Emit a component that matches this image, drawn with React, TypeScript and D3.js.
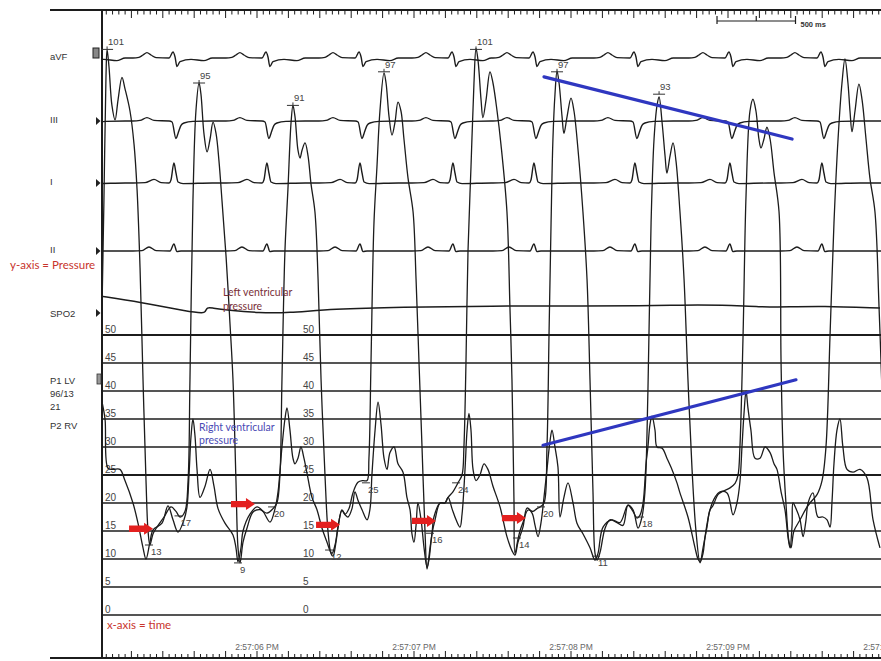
import React from "react";
import * as d3 from "d3";

type P = [number, number];

// ---------- DATA (time in s from 2:57:05 PM, pressure in mmHg) ----------
const lvPressure: P[] = [[0.013,55],[0.025,74],[0.038,96],[0.045,101],[0.057,98],[0.076,91],[0.096,88.4],[0.115,92],[0.140,96],[0.159,94],[0.191,90],[0.217,84],[0.236,76],[0.255,62],[0.274,42],[0.293,24],[0.306,15],[0.318,12.5],[0.338,14.5],[0.363,15.7],[0.408,17.5],[0.452,19.3],[0.484,18.5],[0.510,17.5],[0.541,18.5],[0.561,24],[0.573,42],[0.592,74],[0.611,90],[0.631,95],[0.643,93],[0.662,86],[0.682,82.7],[0.701,85],[0.720,88],[0.739,86],[0.758,81],[0.777,74],[0.803,64],[0.828,52],[0.847,42],[0.866,24],[0.879,12],[0.892,9.3],[0.911,13],[0.936,15.5],[0.975,18.4],[1.019,18.8],[1.064,18.2],[1.102,19],[1.127,20],[1.146,25],[1.159,42],[1.178,65],[1.197,76],[1.217,88],[1.229,91],[1.242,89],[1.261,83],[1.274,81.6],[1.287,83],[1.306,84.3],[1.325,82],[1.344,77],[1.369,72],[1.389,60],[1.408,42],[1.433,25],[1.452,15],[1.471,11],[1.484,10.5],[1.503,13],[1.516,15.7],[1.541,18.7],[1.561,18],[1.586,19],[1.611,21.8],[1.643,23.7],[1.675,24],[1.701,24],[1.713,28],[1.726,45],[1.745,70],[1.764,80],[1.783,90],[1.809,96.8],[1.822,95],[1.841,89],[1.860,85.7],[1.879,88],[1.898,91.6],[1.917,90],[1.936,85],[1.962,78],[1.994,72],[2.013,60],[2.032,45],[2.051,30],[2.070,15],[2.083,8.2],[2.102,12],[2.115,14.6],[2.127,17.5],[2.166,20],[2.197,20],[2.217,21],[2.248,22],[2.280,23.6],[2.306,25],[2.318,30],[2.331,45],[2.344,65],[2.363,80],[2.382,95],[2.395,101.2],[2.408,99],[2.427,92],[2.439,88.8],[2.459,92],[2.484,97],[2.503,95],[2.529,90],[2.554,84],[2.592,72],[2.611,55],[2.624,42],[2.637,20],[2.643,11],[2.662,13.5],[2.675,15],[2.694,16.5],[2.726,18.75],[2.758,18.5],[2.783,19],[2.803,19.3],[2.828,20],[2.847,30],[2.860,50],[2.873,70],[2.885,85],[2.898,93],[2.911,97.1],[2.924,95],[2.943,89],[2.955,86],[2.975,89],[3.000,92.3],[3.019,90],[3.045,83],[3.076,72],[3.102,60],[3.121,42],[3.140,22],[3.153,11],[3.166,9.8],[3.185,11.2],[3.204,14],[3.217,15.5],[3.248,17],[3.293,16.5],[3.331,16],[3.363,19.6],[3.395,18.8],[3.427,15.5],[3.452,17.5],[3.471,22],[3.490,40],[3.510,70],[3.529,85],[3.548,91],[3.561,92.5],[3.580,88],[3.599,82],[3.611,78.9],[3.631,82],[3.650,84.3],[3.669,81],[3.694,72],[3.720,60],[3.745,42],[3.771,26],[3.796,15],[3.822,9.3],[3.841,12],[3.866,15.7],[3.885,18.75],[3.904,19.5],[3.936,21.5],[3.962,22],[4.013,22.7],[4.045,23.5],[4.064,25],[4.076,30],[4.096,50],[4.115,75],[4.140,90],[4.159,92.1],[4.178,90],[4.197,85],[4.210,83.4],[4.229,85],[4.248,87.1],[4.268,85],[4.293,79],[4.325,72],[4.338,45],[4.350,30],[4.369,20],[4.389,13],[4.401,12],[4.420,15],[4.459,17],[4.497,19],[4.522,20],[4.567,21.5],[4.599,24],[4.624,30],[4.650,50],[4.675,70],[4.701,85],[4.726,95],[4.745,99.3],[4.764,95],[4.777,90],[4.790,86.3],[4.809,90],[4.834,94.8],[4.854,92],[4.879,85],[4.904,78],[4.936,72],[4.962,55],[4.981,40]];

const rvPressure: P[] = [[0.013,38],[0.032,35],[0.051,26.2],[0.083,26],[0.127,26],[0.159,24],[0.210,20],[0.242,16.4],[0.274,12],[0.293,10],[0.318,13],[0.338,15.2],[0.395,16.4],[0.433,19.5],[0.465,17],[0.497,14.8],[0.535,17],[0.554,19.3],[0.567,25],[0.580,32],[0.592,35],[0.605,32],[0.618,26],[0.637,21],[0.669,23],[0.701,26],[0.726,23],[0.752,19],[0.796,16.4],[0.847,14.3],[0.866,12],[0.879,9.5],[0.898,12],[0.911,15],[0.955,18],[1.000,19.3],[1.038,18.5],[1.083,16.6],[1.115,19],[1.134,22],[1.159,30],[1.178,35],[1.191,37],[1.210,33],[1.229,28],[1.242,27],[1.261,28],[1.280,30],[1.299,28],[1.318,25.4],[1.350,21],[1.382,18.8],[1.414,15.5],[1.446,13],[1.465,11.5],[1.478,11],[1.497,12.5],[1.516,15.7],[1.541,18.75],[1.561,17.9],[1.580,17.5],[1.605,19],[1.624,22],[1.643,20.5],[1.669,18.8],[1.701,17],[1.720,19],[1.732,25],[1.752,33],[1.771,38],[1.790,34],[1.809,28],[1.828,26],[1.847,29],[1.873,30],[1.898,27],[1.930,25.5],[1.955,21],[1.975,18.75],[1.987,14.5],[2.000,13],[2.013,16],[2.025,20],[2.045,17],[2.064,12],[2.083,8.5],[2.096,10],[2.115,14.6],[2.134,17],[2.166,20],[2.197,20],[2.217,21],[2.242,19],[2.268,17],[2.293,15.7],[2.306,18],[2.325,26],[2.338,33],[2.350,36],[2.363,33],[2.376,26],[2.395,24],[2.420,25],[2.446,27],[2.471,26],[2.503,23],[2.548,19.3],[2.592,14],[2.624,11.5],[2.643,10.7],[2.662,13],[2.694,15.7],[2.720,19.1],[2.752,18.2],[2.771,16],[2.790,14],[2.809,16.5],[2.828,21],[2.847,26],[2.866,31],[2.879,33],[2.898,30],[2.917,26.4],[2.930,17.5],[2.955,21],[2.981,23.6],[3.013,20],[3.038,16.4],[3.076,14.5],[3.121,12],[3.153,9.8],[3.172,11],[3.204,15.7],[3.261,17],[3.312,16.5],[3.363,19.6],[3.395,18.5],[3.420,17.3],[3.439,17.8],[3.459,20],[3.478,27],[3.490,30],[3.503,34],[3.516,35.5],[3.535,33],[3.548,30],[3.580,29.8],[3.611,28],[3.643,26],[3.675,23.6],[3.694,21.8],[3.745,17.5],[3.790,12],[3.809,10],[3.822,9.5],[3.841,11],[3.854,14],[3.885,18.75],[3.917,21],[3.949,22],[3.994,21.8],[4.032,17.9],[4.057,20],[4.076,23.8],[4.089,30],[4.102,36],[4.115,40],[4.127,37],[4.146,33],[4.172,28],[4.204,28],[4.236,30],[4.268,29],[4.293,27],[4.312,26],[4.338,22],[4.363,18.75],[4.382,14],[4.395,12],[4.408,16],[4.414,20],[4.433,19],[4.459,17],[4.478,14],[4.497,17],[4.510,20],[4.541,21.8],[4.573,17.5],[4.605,17.5],[4.631,17],[4.650,15.7],[4.662,20],[4.675,27],[4.694,33],[4.713,35],[4.732,30],[4.758,26],[4.796,25.5],[4.841,26],[4.885,24.5],[4.924,17],[4.968,12]];

// ECG: QRS onset times (s) and one beat shape per lead ([ms from QRS, mV])
const qrsTimes = [-0.09, 0.465, 1.057, 1.650, 2.242, 2.758, 3.401, 4.006, 4.592];
const beatAVF: P[] = [[-255,0],[-217,0.03],[-191,0.15],[-166,0.27],[-140,0.15],[-108,0.02],[-25,0],[0,0.3],[13,0.05],[25,-0.43],[45,-0.18],[115,-0.07],[197,-0.13],[250,0]];
const beatIII: P[] = [[-255,0],[-210,0.03],[-166,0.17],[-121,0.03],[-25,0],[-6,-0.05],[19,-0.88],[32,-0.62],[51,-0.22],[70,-0.1],[127,-0.02],[250,0]];
const beatI: P[] = [[-255,0],[-178,0.02],[-121,0.18],[-76,0.02],[-25,0],[-13,0.15],[6,1.0],[19,0.5],[32,0.05],[64,-0.03],[250,0]];
const beatII: P[] = [[-255,0],[-197,0.02],[-153,0.2],[-108,0.02],[-19,0],[6,0.35],[25,-0.03],[51,0],[250,0]];
const leadNames = ["aVF", "III", "I", "II"];

const spo2Pleth: P[] = [[0.0,8],[0.255,6],[0.573,2.67],[0.656,2.33],[0.669,2.5],[0.682,4.33],[0.713,4],[0.809,3.33],[1.019,2.33],[1.191,2.33],[1.484,3.67],[1.911,4.33],[2.484,4.67],[3.121,4.67],[3.439,4.67],[3.694,5],[3.968,5],[4.204,4.33],[4.395,4.33],[4.586,4.67],[4.968,4]];

const gridLevels = [0, 5, 10, 15, 20, 25, 30, 35, 40, 45, 50];
const timeTicks = [1, 2, 3, 4, 5];
const timeTickLabels = ["2:57:06 PM", "2:57:07 PM", "2:57:08 PM", "2:57:09 PM", "2:57:10 PM"];
const scaleBarStart = 3.93; // s
const scaleBarLength = 0.5; // s

const lvPeakTimes = [0.045, 0.631, 1.229, 1.809, 2.395, 2.911, 3.561];
const lvPeakValues = [101, 95, 91, 97, 101, 97, 93];

const markTimes = [0.312, 0.5, 0.879, 1.096, 1.459, 1.694, 2.102, 2.268, 2.656, 2.809, 3.159, 3.439];
const markValues = [12.5, 17.7, 9.3, 19.3, 11.6, 23.6, 14.6, 23.6, 13.75, 19.3, 10.5, 17.5];
const markLabels = ["13", "17", "9", "20", "12", "25", "16", "24", "14", "20", "11", "18"];

const arrowTimes = [0.338, 0.987, 1.529, 2.14, 2.713];
const arrowValues = [15.4, 19.8, 16.1, 16.8, 17.3];

const lvTrend: P[] = [[2.828, 96.1], [4.408, 85.0]];
const rvTrend: P[] = [[2.822, 30.3], [4.433, 42.0]];

const sideLabels = ["P1 LV", "96/13", "21", "P2 RV"];

// ---------- LAYOUT ----------
const W = 881, H = 661;
const L = 102, R = 881, TOP = 10, BOT = 658;
const leadBase = [58, 121, 183, 251];
const ECG_GAIN = 20;
const NARROW = "'Liberation Sans Narrow', 'Arial Narrow', 'Liberation Sans', Arial, sans-serif";
const ANNOT = "Lato, 'Open Sans', 'Noto Sans', sans-serif";
const INK = "#1c1c1c";

function buildLead(beat: P[]): P[] {
  const pts: P[] = [];
  qrsTimes.forEach((q) => beat.forEach(([ms, mv]) => pts.push([q + ms / 1000, mv])));
  pts.push([5.2, 0]);
  pts.sort((a, b) => a[0] - b[0]);
  const out: P[] = [];
  pts.forEach((pt) => {
    if (!out.length || pt[0] > out[out.length - 1][0] + 1e-6) out.push(pt);
  });
  return out;
}

export default function App() {
  const x = d3.scaleLinear().domain([0, 5]).range([100, 885]);
  const p = d3.scaleLinear().domain([0, 50]).range([615, 335]);
  const spoY = d3.scaleLinear().domain([0, 10]).range([320, 290]);

  const pressLine = d3.line<P>().x((d) => x(d[0])).y((d) => p(d[1])).curve(d3.curveCatmullRom.alpha(0.5));
  const spoLine = d3.line<P>().x((d) => x(d[0])).y((d) => spoY(d[1])).curve(d3.curveBasis);

  const beats = [beatAVF, beatIII, beatI, beatII];
  const ecgPaths = beats.map((b, i) => {
    const base = leadBase[i];
    const ln = d3.line<P>().x((d) => x(d[0])).y((d) => base - d[1] * ECG_GAIN).curve(d3.curveMonotoneX);
    return ln(buildLead(b)) || "";
  });

  const ticks = d3.range(0, 126).map((i) => ({ t: i * 0.04, major: i % 5 === 0 })).filter((d) => x(d.t) > L + 1 && x(d.t) <= R);
  const sb0 = x(scaleBarStart), sb1 = x(scaleBarStart + scaleBarLength), sbm = x(scaleBarStart + scaleBarLength / 2);

  return (
    <svg width={W} height={H} style={{ position: "absolute", left: 0, top: 0, background: "#fff" }}>
      <defs>
        <clipPath id="plotClip">
          <rect x={L + 1} y={TOP + 1} width={R - L - 1} height={BOT - TOP - 2} />
        </clipPath>
      </defs>
      <rect x={0} y={0} width={W} height={H} fill="#fff" />

      {/* rulers */}
      <line x1={50} x2={R} y1={TOP} y2={TOP} stroke={INK} strokeWidth={2} />
      <line x1={50} x2={R} y1={BOT} y2={BOT} stroke={INK} strokeWidth={2} />
      <line x1={L} x2={L} y1={TOP} y2={BOT} stroke={INK} strokeWidth={2} />
      {ticks.map((d, i) => (
        <g key={"tk" + i}>
          <line x1={x(d.t)} x2={x(d.t)} y1={TOP} y2={TOP + (d.major ? 8 : 4.5)} stroke={INK} strokeWidth={1} />
          <line x1={x(d.t)} x2={x(d.t)} y1={BOT} y2={BOT - (d.major ? 7 : 4)} stroke={INK} strokeWidth={1} />
        </g>
      ))}
      {timeTicks.map((t, i) => (
        <text key={"tl" + i} x={x(t)} y={650} fontSize={8.5} fill="#666" textAnchor="middle" fontFamily={NARROW}>
          {timeTickLabels[i]}
        </text>
      ))}

      {/* 500 ms scale bar */}
      <g stroke={INK} strokeWidth={1.2}>
        <line x1={sb0} x2={sb1} y1={21} y2={21} />
        <line x1={sb0} x2={sb0} y1={16} y2={24} />
        <line x1={sbm} x2={sbm} y1={16} y2={21} />
        <line x1={sb1} x2={sb1} y1={16} y2={24} />
      </g>
      <text x={sb1 + 5} y={27} fontSize={7.5} fontWeight="bold" fill="#333" fontFamily={NARROW}>500 ms</text>

      {/* pressure grid */}
      {gridLevels.map((v) => (
        <g key={"g" + v}>
          <line x1={L} x2={R} y1={p(v)} y2={p(v)} stroke={INK} strokeWidth={v === 25 || v === 50 ? 2.2 : 1.4} />
          <text x={105} y={p(v) - 2} fontSize={10} fill="#444" fontFamily={NARROW}>{v}</text>
          <text x={303} y={p(v) - 2} fontSize={10} fill="#444" fontFamily={NARROW}>{v}</text>
        </g>
      ))}

      {/* lead labels and markers */}
      {leadNames.map((n, i) => (
        <text key={"ln" + i} x={50} y={leadBase[i] + 2} fontSize={9.5} fill="#333" fontFamily={NARROW}>{n}</text>
      ))}
      <text x={50} y={317} fontSize={9.5} fill="#333" fontFamily={NARROW}>SPO2</text>
      {sideLabels.map((s, i) => (
        <text key={"sl" + i} x={50} y={[384, 397, 410, 429][i]} fontSize={9.5} fill="#333" fontFamily={NARROW}>{s}</text>
      ))}
      <rect x={93} y={48} width={6} height={10} fill="#888" stroke="#222" strokeWidth={1} />
      {[121, 183, 251, 313].map((y, i) => (
        <path key={"mk" + i} d={`M96,${y - 4}L100.5,${y}L96,${y + 4}Z`} fill="#222" />
      ))}
      <rect x={97} y={374} width={4} height={10} fill="#999" stroke="#333" strokeWidth={0.8} />

      {/* traces */}
      <g clipPath="url(#plotClip)" fill="none">
        {ecgPaths.map((d, i) => (
          <path key={"ecg" + i} d={d} stroke={INK} strokeWidth={1.4} strokeLinejoin="round" />
        ))}
        <path d={spoLine(spo2Pleth) || ""} stroke={INK} strokeWidth={1.5} />
        <path d={pressLine(rvPressure) || ""} stroke={INK} strokeWidth={1.3} strokeLinejoin="round" />
        <path d={pressLine(lvPressure) || ""} stroke={INK} strokeWidth={1.3} strokeLinejoin="round" />
      </g>

      {/* LV peak markers */}
      {lvPeakTimes.map((t, i) => (
        <g key={"pk" + i}>
          <line x1={x(t) - 6} x2={x(t) + 6} y1={p(lvPeakValues[i])} y2={p(lvPeakValues[i])} stroke="#333" strokeWidth={1} />
          <line x1={x(t)} x2={x(t)} y1={p(lvPeakValues[i]) - 3} y2={p(lvPeakValues[i])} stroke="#333" strokeWidth={1} />
          <text x={x(t) + 1} y={p(lvPeakValues[i]) - 4} fontSize={9.5} fill="#444" fontFamily={NARROW}>{lvPeakValues[i]}</text>
        </g>
      ))}

      {/* diastolic measurement marks */}
      {markTimes.map((t, i) => (
        <g key={"mm" + i}>
          <line x1={x(t) - 4} x2={x(t) + 4} y1={p(markValues[i])} y2={p(markValues[i])} stroke="#333" strokeWidth={1} />
          <text x={x(t) + 2} y={p(markValues[i]) + 10} fontSize={9.5} fill="#444" fontFamily={NARROW}>{markLabels[i]}</text>
        </g>
      ))}

      {/* blue trend lines */}
      <line x1={x(lvTrend[0][0])} y1={p(lvTrend[0][1])} x2={x(lvTrend[1][0])} y2={p(lvTrend[1][1])} stroke="#2f37c0" strokeWidth={3.2} strokeLinecap="round" />
      <line x1={x(rvTrend[0][0])} y1={p(rvTrend[0][1])} x2={x(rvTrend[1][0])} y2={p(rvTrend[1][1])} stroke="#2f37c0" strokeWidth={3.2} strokeLinecap="round" />

      {/* red arrows */}
      {arrowTimes.map((t, i) => {
        const tx = x(t), ty = p(arrowValues[i]);
        const d = `M${tx - 24},${ty - 3.2}L${tx - 9},${ty - 3.2}L${tx - 9},${ty - 6}L${tx},${ty}L${tx - 9},${ty + 6}L${tx - 9},${ty + 3.2}L${tx - 24},${ty + 3.2}Z`;
        return <path key={"ar" + i} d={d} fill="#e3201f" />;
      })}

      {/* annotations */}
      <text x={10} y={269} fontSize={11.5} fill="#c8342c" fontFamily={ANNOT}>y-axis = Pressure</text>
      <text x={107} y={629} fontSize={11.5} fill="#c8342c" fontFamily={ANNOT}>x-axis = time</text>
      <text x={223} y={296} fontSize={10.5} fill="#7a3038" fontFamily={ANNOT}>Left ventricular</text>
      <text x={223} y={310} fontSize={10.5} fill="#7a3038" fontFamily={ANNOT}>pressure</text>
      <text x={199} y={431} fontSize={10.5} fill="#4a4ab4" fontFamily={ANNOT}>Right ventricular</text>
      <text x={199} y={444} fontSize={10.5} fill="#4a4ab4" fontFamily={ANNOT}>pressure</text>
    </svg>
  );
}
